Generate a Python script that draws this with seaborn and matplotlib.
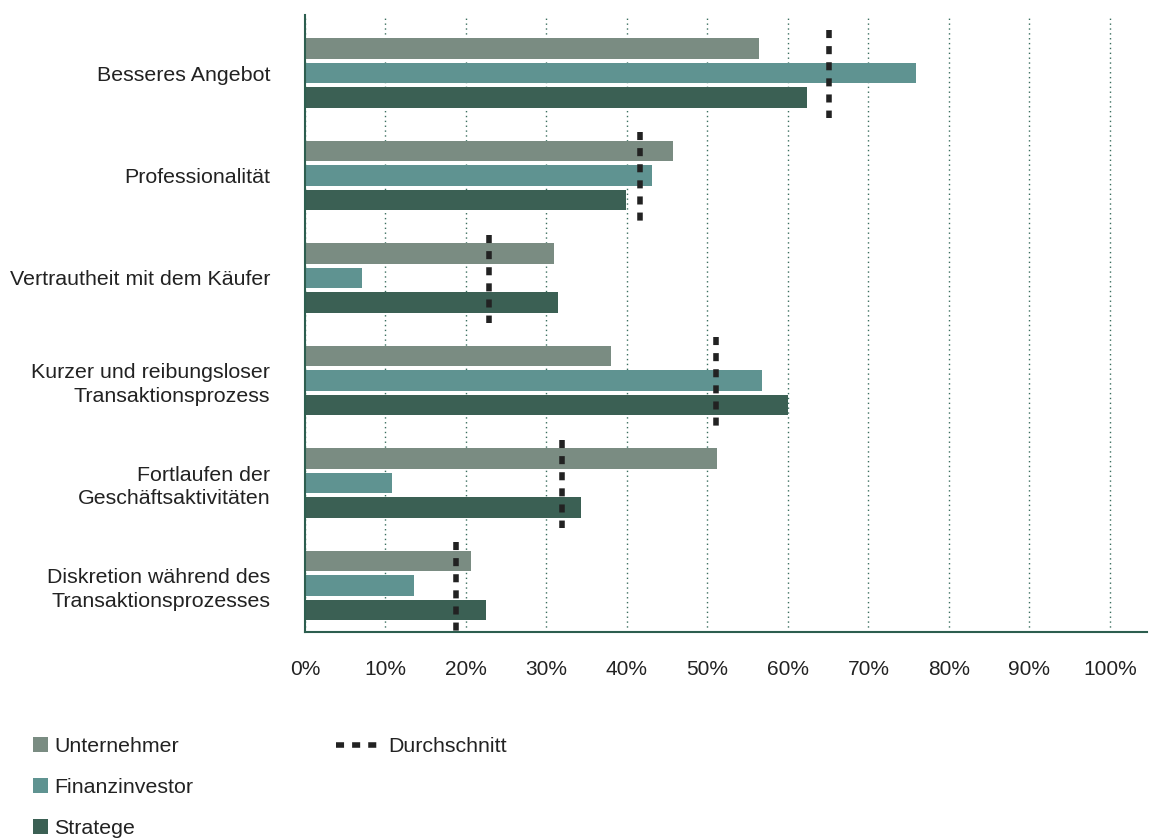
import matplotlib
matplotlib.use("Agg")
import matplotlib.pyplot as plt
import seaborn as sns
import pandas as pd
from matplotlib.patches import Patch
from matplotlib.lines import Line2D

categories = [
    "Besseres Angebot",
    "Professionalität",
    "Vertrautheit mit dem Käufer",
    "Kurzer und reibungsloser\nTransaktionsprozess",
    "Fortlaufen der\nGeschäftsaktivitäten",
    "Diskretion während des\nTransaktionsprozesses",
]
groups = ["Unternehmer", "Finanzinvestor", "Stratege"]
unternehmer = [56.4, 45.7, 30.9, 38.0, 51.2, 20.6]
finanzinvestor = [75.9, 43.1, 7.1, 56.8, 10.8, 13.5]
stratege = [62.4, 39.9, 31.4, 60.0, 34.3, 22.5]
durchschnitt = [65.1, 41.6, 22.9, 51.0, 31.9, 18.8]
avg_label = "Durchschnitt"
xticks = [0, 10, 20, 30, 40, 50, 60, 70, 80, 90, 100]
xticklabels = [f"{v}%" for v in xticks]

colors = ["#7a8c82", "#5f9391", "#3b6054"]
spine_color = "#2d5e4f"

rows = []
for cat, u, f, s in zip(categories, unternehmer, finanzinvestor, stratege):
    rows.append((cat, groups[0], u))
    rows.append((cat, groups[1], f))
    rows.append((cat, groups[2], s))
df = pd.DataFrame(rows, columns=["Kategorie", "Gruppe", "Wert"])

sns.set_theme(style="white")
plt.rcParams["font.family"] = ["Liberation Sans", "DejaVu Sans"]

fig = plt.figure(figsize=(11.52, 8.4), dpi=100)
ax = fig.add_axes([305 / 1152, 1 - 632 / 840, (1147 - 305) / 1152, 617 / 840])

sns.barplot(
    data=df, x="Wert", y="Kategorie", hue="Gruppe", orient="h",
    order=categories, hue_order=groups, palette=colors,
    width=0.717, gap=0.155, errorbar=None, legend=False, ax=ax,
    saturation=1, linewidth=0,
)

ypos = list(range(len(categories)))
ax.vlines(durchschnitt, [y - 0.42 for y in ypos], [y + 0.44 for y in ypos],
          colors="#222222", linewidth=4.0, linestyles=(0, (1.45, 1.45)), zorder=5)

ax.set_xlim(0, 104.6)
ax.set_ylim(5.454, -0.566)
ax.set_xticks(xticks)
ax.set_xticklabels(xticklabels, fontsize=15, color="#222222")
ax.set_yticks(ypos)
ax.set_yticklabels(categories, fontsize=15.4, color="#222222", linespacing=1.3)
ax.tick_params(axis="x", length=0, pad=20)
ax.tick_params(axis="y", length=0, pad=25)
ax.set_xlabel("")
ax.set_ylabel("")

ax.xaxis.grid(True, linestyle=(0, (1, 2.5)), color="#3a6e5e", linewidth=1.0)
ax.yaxis.grid(False)
ax.set_axisbelow(True)

for side in ["top", "right"]:
    ax.spines[side].set_visible(False)
for side in ["left", "bottom"]:
    ax.spines[side].set_color(spine_color)
    ax.spines[side].set_linewidth(1.5)

handles1 = [Patch(facecolor=c, edgecolor="none", label=g) for c, g in zip(colors, groups)]
leg1 = fig.legend(handles=handles1, loc="center left",
                  bbox_to_anchor=(33 / 1152, 1 - 787.5 / 840),
                  frameon=False, fontsize=15.4, handlelength=0.7, handleheight=0.7,
                  handletextpad=0.3, labelspacing=1.05, borderpad=0, borderaxespad=0)
for t in leg1.get_texts():
    t.set_color("#222222")

handles2 = [Line2D([0], [0], color="#222222", linewidth=4.0,
                   linestyle=(0, (1.45, 1.45)), label=avg_label)]
leg2 = fig.legend(handles=handles2, loc="center left",
                  bbox_to_anchor=(336 / 1152, 1 - 747 / 840),
                  frameon=False, fontsize=15.4, handlelength=1.9,
                  handletextpad=0.55, borderpad=0, borderaxespad=0)
for t in leg2.get_texts():
    t.set_color("#222222")

fig.savefig("out.png", dpi=100)
